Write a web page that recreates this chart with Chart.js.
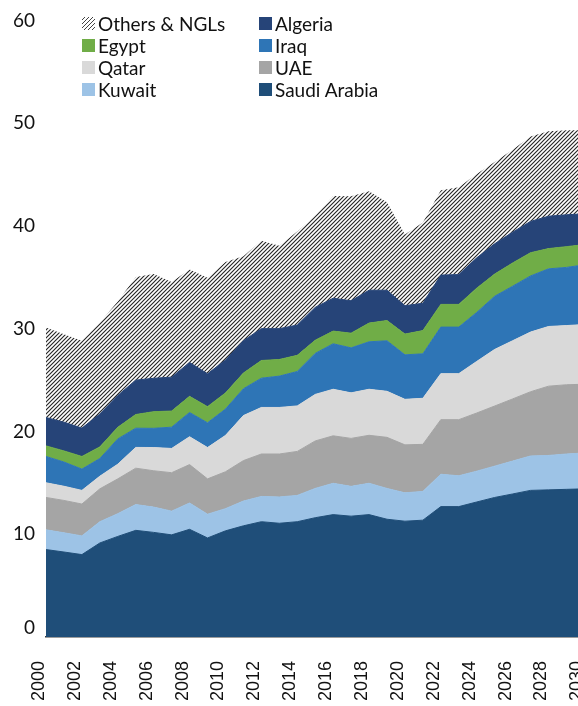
<!DOCTYPE html>
<html>
<head>
<meta charset="utf-8">
<script src="https://cdn.jsdelivr.net/npm/chart.js@4.4.0/dist/chart.umd.min.js"></script>
<style>
  html, body { margin: 0; padding: 0; background: #fff; overflow: hidden; }
  #wrap { position: relative; width: 578px; height: 706px; overflow: hidden; }
  #chart { position: absolute; left: 0; top: 0; }
  #legend {
    position: absolute; left: 82px; top: 12px;
    display: grid; grid-template-columns: 177px 177px; grid-auto-rows: 22.2px;
    font-family: Lato, sans-serif; font-size: 19px; color: #111;
  }
  .item { display: flex; align-items: center; white-space: nowrap; }
  .box { width: 13px; height: 13px; margin-right: 3px; flex: none; }
</style>
</head>
<body>
<div id="wrap">
  <canvas id="chart" width="630" height="706"></canvas>
  <div id="legend"></div>
</div>
<script>
const years = ['2000','2001','2002','2003','2004','2005','2006','2007','2008','2009',
  '2010','2011','2012','2013','2014','2015','2016','2017','2018','2019',
  '2020','2021','2022','2023','2024','2025','2026','2027','2028','2029','2030'];

const saudiArabia = [8.51,8.27,8.02,9.15,9.79,10.38,10.18,9.94,10.48,9.64,10.33,10.82,11.22,11.07,11.22,
  11.61,11.91,11.76,11.91,11.46,11.27,11.37,12.69,12.69,13.14,13.58,13.92,14.27,14.32,14.37,14.42];
const kuwait = [1.92,1.87,1.82,2.07,2.21,2.51,2.46,2.31,2.56,2.31,2.16,2.41,2.46,2.56,2.56,
  2.85,3.05,2.9,3.05,3.0,2.76,2.8,3.15,3.0,3.0,3.05,3.2,3.35,3.35,3.44,3.49];
const uae = [3.15,3.15,3.1,3.2,3.39,3.54,3.54,3.74,3.74,3.44,3.59,3.94,4.13,4.18,4.28,
  4.62,4.62,4.67,4.67,4.97,4.67,4.58,5.31,5.46,5.66,5.85,6.05,6.25,6.74,6.74,6.69];
const qatar = [1.43,1.38,1.33,1.23,1.43,2.02,2.26,2.36,2.71,3.05,3.54,4.38,4.53,4.53,4.43,
  4.53,4.53,4.43,4.48,4.48,4.43,4.48,4.48,4.48,5.02,5.51,5.66,5.81,5.81,5.76,5.81];
const iraq = [2.56,2.36,2.07,1.72,2.46,1.87,1.87,2.07,2.36,2.41,2.56,2.61,2.85,3.05,3.35,
  3.99,4.43,4.38,4.62,4.92,4.33,4.33,4.53,4.53,4.77,5.17,5.31,5.46,5.61,5.66,5.81];
const egypt = [1.03,1.08,1.23,1.13,1.13,1.33,1.62,1.57,1.57,1.57,1.57,1.53,1.72,1.62,1.57,
  1.28,1.23,1.43,1.82,1.97,2.02,2.26,2.21,2.21,2.36,2.16,2.26,2.26,1.97,2.02,1.97];
const algeria = [2.76,2.8,2.76,3.2,3.1,3.35,3.25,3.3,3.3,3.2,3.2,3.15,3.1,3.0,2.95,
  3.2,3.2,3.15,3.2,2.95,2.76,2.66,2.85,2.9,2.95,2.95,3.0,3.05,3.15,3.1,3.0];
const othersNgls = [8.76,8.56,8.51,8.91,9.15,10.04,10.14,9.25,9.05,9.35,9.54,8.22,8.56,8.07,9.1,
  8.95,9.94,10.18,9.64,8.56,6.94,7.87,8.27,8.51,8.17,7.97,8.02,8.27,8.27,8.22,8.12];

const yTicks = [0, 10, 20, 30, 40, 50, 60];

// bottom to top of the stack
const seriesNames = ['Saudi Arabia','Kuwait','UAE','Qatar','Iraq','Egypt','Algeria','Others & NGLs'];
const seriesData = [saudiArabia, kuwait, uae, qatar, iraq, egypt, algeria, othersNgls];
const seriesColors = ['#1f4e79','#9dc3e6','#a5a5a5','#d9d9d9','#2e75b6','#70ad47','#264478','hatch'];

function makeHatch(ctx) {
  const c = document.createElement('canvas');
  c.width = 4; c.height = 4;
  const g = c.getContext('2d');
  g.fillStyle = '#fff';
  g.fillRect(0, 0, 4, 4);
  g.strokeStyle = '#262626';
  g.lineWidth = 1.15;
  g.beginPath();
  g.moveTo(0, 4); g.lineTo(4, 0);
  g.moveTo(-1, 1); g.lineTo(1, -1);
  g.moveTo(3, 5); g.lineTo(5, 3);
  g.stroke();
  return ctx.createPattern(c, 'repeat');
}

const canvas = document.getElementById('chart');
const ctx = canvas.getContext('2d');
const hatch = makeHatch(ctx);

const datasets = seriesNames.map((name, i) => {
  const isHatch = seriesColors[i] === 'hatch';
  return {
    label: name,
    data: seriesData[i],
    backgroundColor: isHatch ? hatch : seriesColors[i],
    borderColor: isHatch ? 'rgba(0,0,0,0)' : seriesColors[i],
    borderWidth: isHatch ? 0 : 1,
    fill: i === 0 ? 'origin' : '-1',
    pointRadius: 0,
    pointHoverRadius: 0,
    tension: 0
  };
});

const chart = new Chart(ctx, {
  type: 'line',
  data: { labels: years, datasets: datasets },
  options: {
    responsive: false,
    animation: false,
    devicePixelRatio: 1,
    layout: { padding: { top: 15, right: 10, bottom: 0, left: 0 } },
    plugins: {
      legend: { display: false },
      tooltip: { enabled: false }
    },
    scales: {
      x: {
        grid: { display: false, drawTicks: false },
        border: { display: true, color: '#3a3a3a', width: 1.5 },
        ticks: {
          autoSkip: false,
          minRotation: 90,
          maxRotation: 90,
          padding: 24,
          labelOffset: -7,
          color: '#111',
          font: { family: 'Liberation Sans', size: 18 },
          callback: function (val, idx) { return idx % 2 === 0 ? years[idx] : ''; }
        },
        afterFit: function (scale) { scale.height = 69; }
      },
      y: {
        stacked: true,
        min: 0,
        max: 60,
        grid: { display: false, drawTicks: false },
        border: { display: false },
        afterBuildTicks: function (scale) { scale.ticks = yTicks.map(v => ({ value: v })); },
        ticks: {
          padding: 11,
          color: '#111',
          font: { family: 'Lato', size: 19, lineHeight: 1 },
          // the zero label sits a little above the axis line
          callback: function (val) { return val === 0 ? ['0', ''] : String(val); }
        },
        afterFit: function (scale) { scale.width = 46; }
      }
    }
  }
});

// two-column legend, top of stack first
const legendEl = document.getElementById('legend');
chart.data.datasets.slice().reverse().forEach((ds, k) => {
  const idx = seriesNames.length - 1 - k;
  const item = document.createElement('div');
  item.className = 'item';
  const box = document.createElement('span');
  box.className = 'box';
  if (seriesColors[idx] === 'hatch') {
    box.style.background = 'repeating-linear-gradient(135deg, #fff 0px, #fff 1.6px, #444 1.6px, #444 2.8px)';
  } else {
    box.style.background = seriesColors[idx];
  }
  const txt = document.createElement('span');
  txt.textContent = ds.label;
  item.appendChild(box);
  item.appendChild(txt);
  legendEl.appendChild(item);
});
</script>
</body>
</html>
